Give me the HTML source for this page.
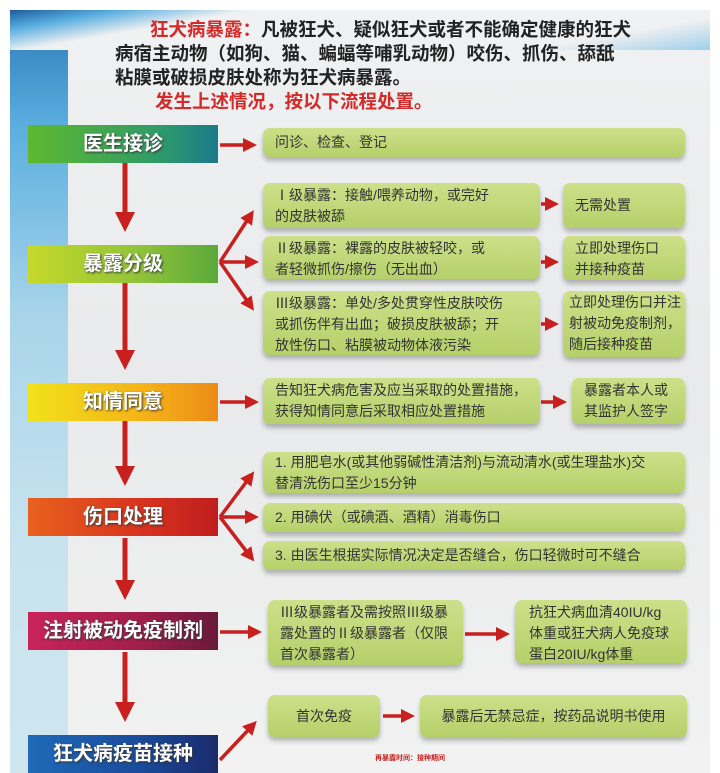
<!DOCTYPE html>
<html><head><meta charset="utf-8"><style>
*{margin:0;padding:0;box-sizing:border-box}
body{width:720px;height:773px;overflow:hidden;background:#fff;position:relative;font-family:"Liberation Sans","Noto Sans CJK SC",sans-serif}
.panel{position:absolute;left:10px;top:10px;width:700px;height:763px;background:linear-gradient(180deg,#f0f1f2,#e9eaeb 50%,#f2f2f2)}
.strip{position:absolute;left:10px;top:10px;width:58px;height:763px;background:linear-gradient(180deg,#2a78b8 0,#5aaede 15%,#a8d4ea 40%,#c8e3ee 70%,#cfe6ef)}
.band{position:absolute;left:10px;top:10px;width:700px;height:40px;background:linear-gradient(170deg,#1b5d9c 0,#5aaee0 12%,#f0f1f2 26%,#f0f1f2 80%,#9fcfea 100%)}
.t{position:absolute;font-weight:bold;font-size:18.5px;color:#222;line-height:25px}
.lab{position:absolute;left:28px;width:190px;height:38px;color:#fff;font-weight:bold;font-size:20px;text-align:center;line-height:38px;text-shadow:1px 1px 2px #333}
.b{position:absolute;background:linear-gradient(180deg,#cde08a,#b5d06a);border-radius:7px;color:#333;font-size:14px;line-height:21px;padding:2px 4px 2px 12px;box-shadow:0 4px 5px rgba(0,0,0,.25);white-space:nowrap}
</style></head><body>
<div class="panel"></div><div class="strip"></div><div class="band"></div>
<div class="t" style="left:150px;top:17px"><span style="color:#d42a2a">狂犬病暴露：</span>凡被狂犬、疑似狂犬或者不能确定健康的狂犬</div>
<div class="t" style="left:115px;top:41px">病宿主动物（如狗、猫、蝙蝠等哺乳动物）咬伤、抓伤、舔舐</div>
<div class="t" style="left:115px;top:65px">粘膜或破损皮肤处称为狂犬病暴露。</div>
<div class="t" style="left:155px;top:89px;color:#d42a2a">发生上述情况，按以下流程处置。</div>

<svg style="position:absolute;left:0;top:0" width="720" height="773">
<defs><marker id="a" markerWidth="4" markerHeight="4" refX="2" refY="2" orient="auto"><path d="M0,0L4,2L0,4z" fill="#c8201e"/></marker></defs>
<g stroke="#c8201e" stroke-width="5" fill="none">
<line x1="125" y1="163" x2="125" y2="222" marker-end="url(#a)"/>
<line x1="125" y1="283" x2="125" y2="360" marker-end="url(#a)"/>
<line x1="125" y1="421" x2="125" y2="476" marker-end="url(#a)"/>
<line x1="125" y1="538" x2="125" y2="590" marker-end="url(#a)"/>
<line x1="125" y1="652" x2="125" y2="712" marker-end="url(#a)"/>
</g>
<g stroke="#c8201e" stroke-width="3.5" fill="none">
<line x1="220" y1="145" x2="250" y2="145" marker-end="url(#a)"/>
<line x1="220" y1="262" x2="250" y2="216" marker-end="url(#a)"/>
<line x1="220" y1="262" x2="252" y2="262" marker-end="url(#a)"/>
<line x1="220" y1="262" x2="250" y2="305" marker-end="url(#a)"/>
<line x1="220" y1="402" x2="252" y2="402" marker-end="url(#a)"/>
<line x1="220" y1="517" x2="250" y2="477" marker-end="url(#a)"/>
<line x1="220" y1="517" x2="252" y2="517" marker-end="url(#a)"/>
<line x1="220" y1="517" x2="250" y2="556" marker-end="url(#a)"/>
<line x1="220" y1="632" x2="255" y2="632" marker-end="url(#a)"/>
<line x1="220" y1="760" x2="252" y2="726" marker-end="url(#a)"/>
<line x1="541" y1="204" x2="552" y2="204" marker-end="url(#a)"/>
<line x1="541" y1="262" x2="552" y2="262" marker-end="url(#a)"/>
<line x1="541" y1="324" x2="552" y2="324" marker-end="url(#a)"/>
<line x1="541" y1="402" x2="560" y2="402" marker-end="url(#a)"/>
<line x1="465" y1="634" x2="503" y2="634" marker-end="url(#a)"/>
<line x1="383" y1="716" x2="408" y2="716" marker-end="url(#a)"/>
</g></svg>

<div class="lab" style="top:125px;background:linear-gradient(90deg,#5eb82e,#2e9a6a 70%,#1a7a8a)">医生接诊</div>
<div class="lab" style="top:245px;background:linear-gradient(90deg,#c6d92a,#8fc23a 60%,#5aa83a)">暴露分级</div>
<div class="lab" style="top:383px;background:linear-gradient(90deg,#f2e21a,#f4b418 60%,#ee8a18)">知情同意</div>
<div class="lab" style="top:498px;background:linear-gradient(90deg,#e8621e,#d8321e 60%,#c01e1e)">伤口处理</div>
<div class="lab" style="top:612px;background:linear-gradient(90deg,#c8245a,#a01e4a 60%,#6a1a3a)">注射被动免疫制剂</div>
<div class="lab" style="top:735px;background:linear-gradient(90deg,#1e6ab8,#1a4a9a 60%,#1a2a6a)">狂犬病疫苗接种</div>

<div class="b" style="left:263px;top:128px;width:422px;height:29px;line-height:25px">问诊、检查、登记</div>
<div class="b" style="left:263px;top:183px;width:277px;height:45px">Ⅰ级暴露：接触/喂养动物，或完好<br>的皮肤被舔</div>
<div class="b" style="left:563px;top:183px;width:122px;height:45px;line-height:41px">无需处置</div>
<div class="b" style="left:263px;top:236px;width:277px;height:43px">Ⅱ级暴露：裸露的皮肤被轻咬，或<br>者轻微抓伤/擦伤（无出血）</div>
<div class="b" style="left:563px;top:236px;width:122px;height:44px">立即处理伤口<br>并接种疫苗</div>
<div class="b" style="left:263px;top:291px;width:277px;height:64px">Ⅲ级暴露：单处/多处贯穿性皮肤咬伤<br>或抓伤伴有出血；破损皮肤被舔；开<br>放性伤口、粘膜被动物体液污染</div>
<div class="b" style="left:563px;top:291px;width:122px;height:66px;padding:1px 2px 1px 6px">立即处理伤口并注<br>射被动免疫制剂，<br>随后接种疫苗</div>
<div class="b" style="left:263px;top:378px;width:277px;height:46px">告知狂犬病危害及应当采取的处置措施，<br>获得知情同意后采取相应处置措施</div>
<div class="b" style="left:572px;top:378px;width:113px;height:46px">暴露者本人或<br>其监护人签字</div>
<div class="b" style="left:263px;top:452px;width:422px;height:41px;padding:0 4px 0 12px">1. 用肥皂水(或其他弱碱性清洁剂)与流动清水(或生理盐水)交<br>替清洗伤口至少15分钟</div>
<div class="b" style="left:263px;top:503px;width:422px;height:29px;line-height:25px">2. 用碘伏（或碘酒、酒精）消毒伤口</div>
<div class="b" style="left:263px;top:541px;width:422px;height:29px;line-height:25px">3. 由医生根据实际情况决定是否缝合，伤口轻微时可不缝合</div>
<div class="b" style="left:268px;top:600px;width:195px;height:65px">Ⅲ级暴露者及需按照Ⅲ级暴<br>露处置的Ⅱ级暴露者（仅限<br>首次暴露者）</div>
<div class="b" style="left:515px;top:600px;width:172px;height:63px;padding:2px 4px 2px 14px">抗狂犬病血清40IU/kg<br>体重或狂犬病人免疫球<br>蛋白20IU/kg体重</div>
<div class="b" style="left:268px;top:695px;width:112px;height:42px;line-height:38px;text-align:center;padding:2px 0">首次免疫</div>
<div class="b" style="left:420px;top:695px;width:267px;height:42px;line-height:38px;text-align:center;padding:2px 0">暴露后无禁忌症，按药品说明书使用</div>
<div style="position:absolute;left:375px;top:753px;font-size:7px;color:#c8201e;font-weight:bold">再暴露时间：接种期间</div>
</body></html>
